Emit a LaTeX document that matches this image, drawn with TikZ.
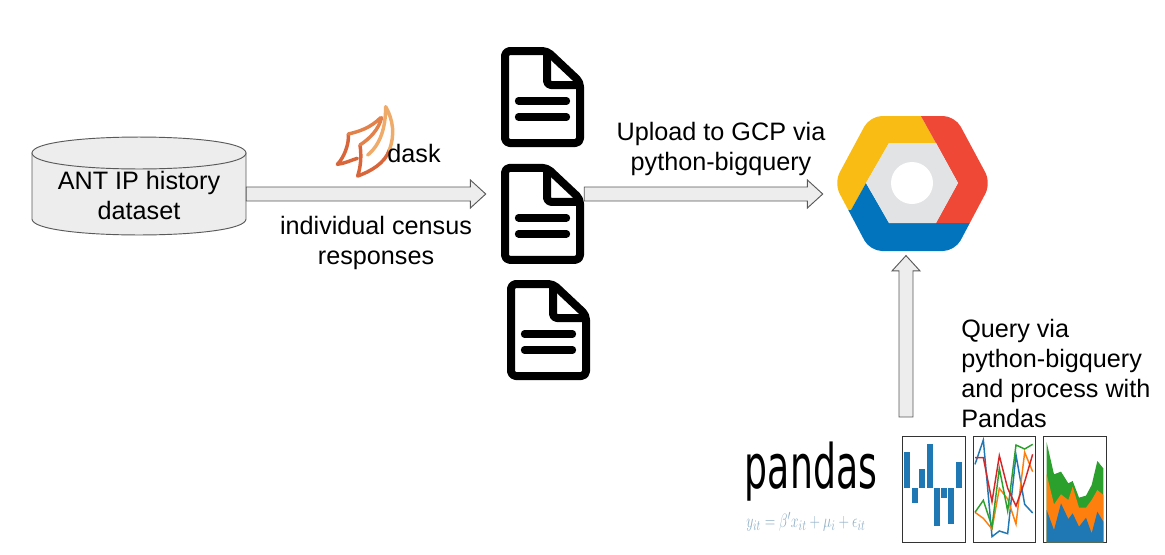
\documentclass[tikz,border=0pt]{standalone}
\usepackage{fontspec}
\usepackage{graphicx}
\setmainfont{Liberation Sans}
\usetikzlibrary{positioning,calc}
\definecolor{tabblue}{HTML}{1F77B4}
\definecolor{taborange}{HTML}{FF7F0E}
\definecolor{tabgreen}{HTML}{2CA02C}
\definecolor{tabred}{HTML}{D62728}
\definecolor{gcpyellow}{HTML}{F9BC15}
\definecolor{gcpred}{HTML}{EF4836}
\definecolor{gcpblue}{HTML}{0274BD}
\definecolor{gcpgray}{HTML}{E1E3E5}
\definecolor{daskred}{HTML}{D9653B}
\definecolor{daskmid}{HTML}{E2814A}
\definecolor{dasklight}{HTML}{EFAB69}
\definecolor{formulablue}{HTML}{8FAFC6}
\tikzset{
  lbl/.style={font=\fontsize{18.9pt}{22.5pt}\selectfont,align=center,inner sep=0pt},
  blockarrow/.style={draw=black!65,fill=black!7,line width=.7pt,line join=miter},
  dbbody/.style={draw=black!65,fill=black!7,line width=.7pt},
  docnode/.style={minimum width=62.25pt,minimum height=75pt,inner sep=0pt},
  plotnode/.style={draw=black!80,line width=.8pt,minimum width=47pt,minimum height=79.5pt,inner sep=0pt},
  pics/docicon/.style={code={
    \draw[line width=6pt,rounded corners=3.5pt,line join=round]
      (-37.5,-46) -- (4.5,-46) -- (37.5,-15) -- (37.5,46) -- (-37.5,46) -- cycle;
    \draw[line width=6pt,rounded corners=3pt,line join=round] (4.5,-46) -- (4.5,-12) -- (37.5,-12);
    \draw[line width=5.5pt,line cap=round] (-24,4) -- (24,4);
    \draw[line width=5.5pt,line cap=round] (-24,20) -- (24,20);
  }}
}
\newcommand{\blockarrow}[2]{
  \coordinate (hd) at ($(#2)!11.5pt!(#1)$);
  \draw[blockarrow] ($(#1)!5.25pt!90:(hd)$) -- ($(hd)!5.25pt!-90:(#1)$) -- ($(hd)!10.5pt!-90:(#1)$)
    -- (#2) -- ($(hd)!10.5pt!90:(#1)$) -- ($(hd)!5.25pt!90:(#1)$) -- ($(#1)!5.25pt!-90:(hd)$) -- cycle;
}
\begin{document}
\begin{tikzpicture}[x=.75pt,y=-.75pt]
  \useasboundingbox (0,0) rectangle (1165,554);

  \node[minimum width=160.5pt,minimum height=73.5pt,inner sep=0pt] (db) at (139,186) {};
  \draw[dbbody] (32,153) -- (32,219) .. controls (32,240.3) and (246,240.3) .. (246,219) -- (246,153) -- cycle;
  \draw[dbbody] (32,153) .. controls (32,131.7) and (246,131.7) .. (246,153) .. controls (246,174.3) and (32,174.3) .. (32,153) -- cycle;
  \node[lbl] (dbtext) at (139,195) {ANT IP history\\dataset};

  \node[docnode] (doc1) at (542.5,97) {};
  \node[docnode,below=12.25pt of doc1] (doc2) {};
  \node[docnode] (doc3) at (548.5,330) {};
  \pic at (doc1) {docicon};
  \pic at (doc2) {docicon};
  \pic at (doc3) {docicon};

  % dask logo
  \begin{scope}[shift={(320,95)},x=.25pt,y=-.25pt,line cap=round,line join=round]
    \draw[line width=2.6pt,color=daskred] (85,117) .. controls (88,150) and (70,190) .. (52,208)
      .. controls (75,205) and (95,195) .. (112,190);
    \draw[line width=2.6pt,color=daskmid] (182,68) .. controls (150,100) and (115,110) .. (85,117);
    \draw[line width=2.6pt,color=daskred] (120,150) .. controls (125,185) and (122,215) .. (113,243)
      .. controls (150,230) and (195,205) .. (208,165);
    \draw[line width=2.6pt,color=daskmid] (185,68) .. controls (175,105) and (150,130) .. (120,150);
    \draw[line width=2.6pt,color=dasklight] (208,165) .. controls (225,120) and (220,75) .. (197,35)
      .. controls (197,100) and (180,150) .. (143,180);
  \end{scope}
  \node[lbl] (dasklabel) at (414,153) {dask};
  \node[lbl] (censuslabel) at (376,243) {individual census\\responses};

  % gcp logo
  \node[minimum width=115.5pt,minimum height=101pt,inner sep=0pt] (gcp) at (912,183) {};
  \begin{scope}
    \clip[rounded corners=9pt] (834,183) -- (870,116) -- (955,116) -- (991,183) -- (955,251) -- (870,251) -- cycle;
    \fill[gcpyellow] (825,100) -- (912,100) -- (936,143) -- (889,143) -- (866,183) -- (851,210) -- (825,210) -- cycle;
    \fill[gcpred] (912,100) -- (1000,100) -- (1000,223) -- (936,223) -- (958,183) -- (936,143) -- cycle;
    \fill[gcpblue] (866,183) -- (889,223) -- (1000,223) -- (1000,260) -- (825,260) -- (825,210) -- (851,210) -- cycle;
    \fill[gcpgray] (866,183) -- (889,143) -- (936,143) -- (958,183) -- (936,223) -- (889,223) -- cycle;
    \fill[white] (912,183) circle[radius=21];
  \end{scope}

  % pandas
  \node[inner sep=0pt] (pandastext) at (811,472) {\scalebox{.59}[1]{\fontspec{DejaVu Sans}\fontsize{46pt}{46pt}\selectfont pandas}};
  \node[inner sep=0pt,text=formulablue,anchor=center] (formula) at (806,522)
    {\scalebox{.72}[1]{\fontsize{15pt}{16pt}\selectfont $y_{it}=\beta' x_{it}+\mu_i+\epsilon_{it}$}};

  \node[plotnode] (plotA) at (934,489.5) {};
  \node[plotnode,right=5pt of plotA] (plotB) {};
  \node[plotnode,right=5pt of plotB] (plotC) {};
  \begin{scope}[shift={(730,425)},x=.25pt,y=-.25pt,line width=1.1pt]
    \foreach \xpos/\ypos in {532/80,555/233,577/132,600/58,622/303,642/218,663/297,687/112}
      \fill[tabblue] (\xpos-9,190) rectangle (\xpos+9,\ypos);
    \draw[tabblue] (735,118) -- (760,45) -- (786,335) -- (808,318) -- (833,326) -- (858,90) -- (884,238) -- (908,264);
    \draw[taborange] (735,262) -- (760,280) -- (786,312) -- (808,190) -- (833,222) -- (858,297) -- (884,82) -- (908,140);
    \draw[tabgreen] (735,262) -- (760,226) -- (786,305) -- (808,130) -- (833,258) -- (858,60) -- (884,72) -- (908,58);
    \draw[tabred] (735,98) -- (760,98) -- (786,230) -- (808,92) -- (833,190) -- (858,243) -- (884,170) -- (908,88);
    \fill[tabgreen] (950,52) -- (972,148) -- (993,140) -- (1015,175) -- (1028,168) -- (1047,218) -- (1068,212) -- (1085,180) -- (1102,108) -- (1120,130) -- (1120,352) -- (950,352) -- cycle;
    \fill[taborange] (950,148) -- (972,238) -- (993,208) -- (1015,225) -- (1028,185) -- (1047,248) -- (1068,248) -- (1085,225) -- (1102,195) -- (1120,210) -- (1120,352) -- (950,352) -- cycle;
    \fill[tabblue] (950,255) -- (972,315) -- (993,235) -- (1015,282) -- (1028,265) -- (1047,305) -- (1068,278) -- (1085,325) -- (1102,260) -- (1120,290) -- (1120,352) -- (950,352) -- cycle;
  \end{scope}

  \node[lbl] (uploadlabel) at (721,148.5) {Upload to GCP via\\python-bigquery};
  \node[lbl,align=left,anchor=north west] (querylabel) at (961,319) {Query via\\python-bigquery\\and process with\\Pandas};

  \coordinate (rowa) at (0,194);
  \coordinate (cola) at (906,0);
  \coordinate (dbout) at (db.east |- rowa);
  \coordinate (tipa) at ($(doc2.west |- rowa)+(-15,0)$);
  \coordinate (docout) at (doc2.east |- rowa);
  \coordinate (tipb) at ($(gcp.west |- rowa)+(-12,0)$);
  \coordinate (plotout) at ($(cola |- plotA.north)+(0,-19)$);
  \coordinate (tipc) at ($(cola |- gcp.south)+(0,5)$);
  \blockarrow{dbout}{tipa}
  \blockarrow{docout}{tipb}
  \blockarrow{plotout}{tipc}
\end{tikzpicture}
\end{document}
